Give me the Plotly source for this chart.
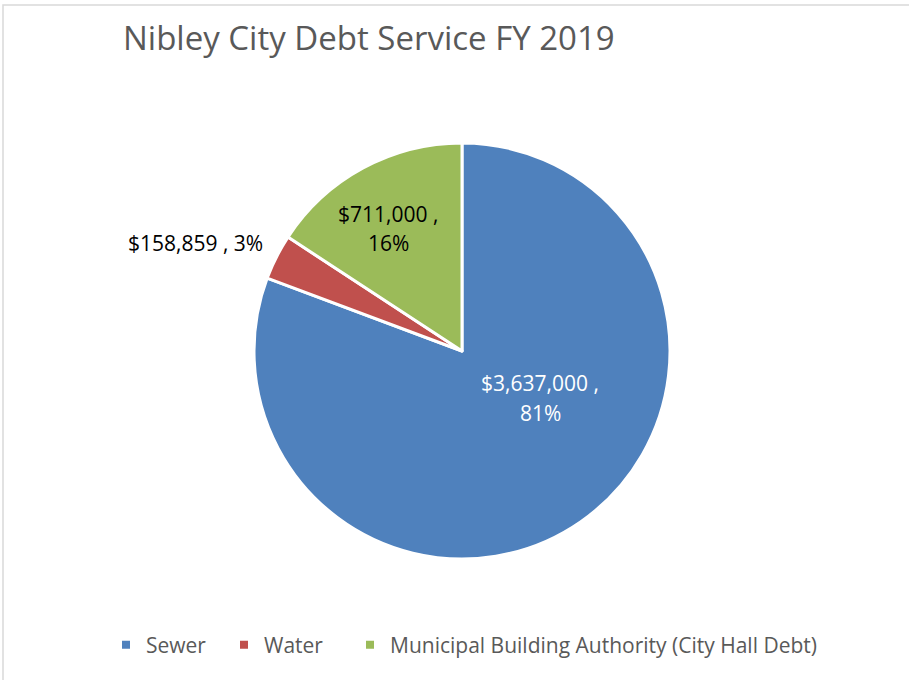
import plotly.graph_objects as go

categories = ["Sewer", "Water", "Municipal Building Authority (City Hall Debt)"]
values = [3637000, 158859, 711000]
percent_labels = ["81%", "3%", "16%"]
colors = ["#4F81BD", "#C0504D", "#9BBB59"]

W, H = 909, 680
cx, cy, r = 462, 351, 208

fig = go.Figure()
fig.add_trace(go.Pie(
    labels=categories,
    values=values,
    sort=False,
    direction="clockwise",
    rotation=0,
    marker=dict(colors=colors, line=dict(color="white", width=3)),
    textinfo="none",
    showlegend=False,
    domain=dict(x=[(cx - r) / W, (cx + r) / W], y=[(H - cy - r) / H, (H - cy + r) / H]),
    hoverinfo="label+value+percent",
))

# legend entries (one legend box per entry so spacing can match the reference)
legend_ids = ["legend", "legend2", "legend3"]
legend_x_px = [106, 224, 350]
for cat, col, lid in zip(categories, colors, legend_ids):
    fig.add_trace(go.Scatter(
        x=[None], y=[None], mode="markers", name=cat, legend=lid,
        marker=dict(symbol="square", size=8, color=col), showlegend=True,
        hoverinfo="skip",
    ))

# data label placement (pixel positions of each label line), layout only
label_layout = [
    dict(x=540, ys=[383, 413], color="white"),
    dict(x=195.5, ys=[243], color="black"),
    dict(x=388, ys=[214, 243], color="black"),
]
annotations = []
for v, p, lay in zip(values, percent_labels, label_layout):
    lines = [f"${v:,} ,", p] if len(lay["ys"]) == 2 else [f"${v:,} , {p}"]
    for line, ypx in zip(lines, lay["ys"]):
        annotations.append(dict(
            text=line, x=lay["x"] / W, y=1 - ypx / H,
            xref="paper", yref="paper", xanchor="center", yanchor="middle",
            showarrow=False,
            font=dict(family="Open Sans", size=21, color=lay["color"]),
        ))

legend_common = dict(orientation="h", xanchor="left", y=1 - 645 / H, yanchor="middle",
                     font=dict(family="Open Sans", size=21, color="#595959"),
                     itemwidth=30, bgcolor="rgba(0,0,0,0)")
legends = {}
for lid, lx in zip(legend_ids, legend_x_px):
    legends[lid] = dict(legend_common, x=lx / W)

fig.update_layout(
    width=W, height=H,
    margin=dict(l=0, r=0, t=0, b=0),
    paper_bgcolor="white",
    plot_bgcolor="white",
    xaxis=dict(visible=False),
    yaxis=dict(visible=False),
    title=dict(text="Nibley City Debt Service FY 2019", x=123 / W, xanchor="left",
               y=1 - 38 / H, yanchor="middle",
               font=dict(family="Open Sans", size=33, color="#595959")),
    annotations=annotations,
    shapes=[dict(type="rect", xref="paper", yref="paper", x0=3 / W, x1=1.2, y0=-0.2, y1=1 - 5 / H,
                 line=dict(color="#D9D9D9", width=1.5))],
    **legends,
)

fig.write_html("out.html", config={"displayModeBar": False},
               post_script="document.body.style.margin='0';")
